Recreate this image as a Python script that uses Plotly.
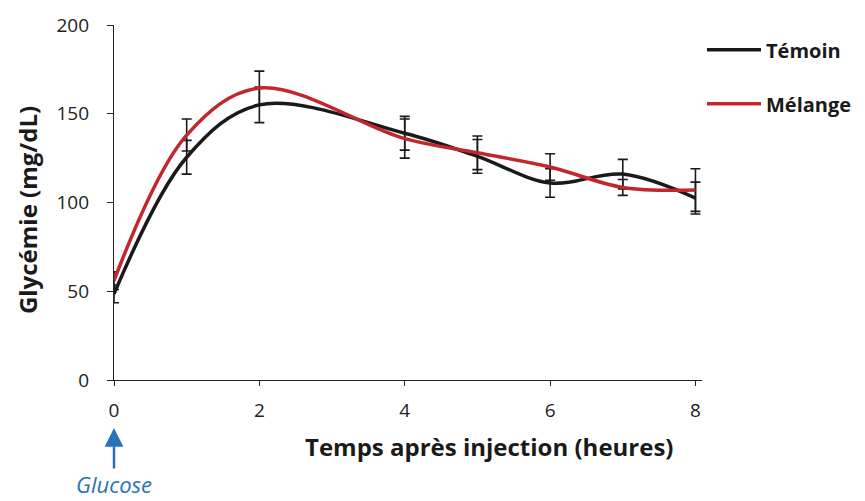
import plotly.graph_objects as go

hours = [0, 1, 2, 4, 5, 6, 7, 8]
temoin = [48.5, 125.5, 155, 139, 126, 111, 116, 102.5]
temoin_err = [5, 9.5, 10, 9.5, 9.5, 8, 8.3, 9]
melange = [56, 138, 164.5, 136, 128, 120, 108.5, 107]
melange_err = [5, 9, 9.5, 11, 9.5, 7.5, 4.5, 12]
x_ticks = [0, 2, 4, 6, 8]
y_ticks = [0, 50, 100, 150, 200]

FONT = "Open Sans"
BLACK = "#1a1a1a"
RED = "#c1272d"
BLUE = "#2a72b8"

fig = go.Figure()
fig.add_trace(go.Scatter(
    x=hours, y=temoin, name="Témoin", mode="lines",
    line=dict(color=BLACK, width=3.5, shape="spline", smoothing=1),
    error_y=dict(type="data", array=temoin_err, color=BLACK, thickness=1.6, width=5),
    legendgroup="a",
))
fig.add_trace(go.Scatter(
    x=hours, y=melange, name="Mélange", mode="lines",
    line=dict(color=RED, width=3.5, shape="spline", smoothing=1),
    error_y=dict(type="data", array=melange_err, color=BLACK, thickness=1.6, width=5),
    legendgroup="b",
))

# page body has an 8px margin: figure spans 8..865 x 8..501
fig.update_layout(
    width=857, height=493,
    margin=dict(l=106, r=163, t=17, b=121, autoexpand=False),
    paper_bgcolor="white", plot_bgcolor="white",
    font=dict(family=FONT, size=19, color="#222"),
    showlegend=True,
    legend=dict(
        x=1.0, xanchor="left", y=0.985, yanchor="top",
        font=dict(family=FONT, size=20, color="#1a1a1a", weight="bold"),
        tracegroupgap=25, itemwidth=54, bgcolor="rgba(0,0,0,0)",
    ),
    xaxis=dict(
        range=[0, 8.09], tickvals=x_ticks, showgrid=False, zeroline=False,
        showline=True, linecolor="#222", linewidth=1.3,
        ticks="outside", ticklen=5, tickwidth=1.3, tickcolor="#222",
        ticklabelstandoff=8, automargin=False,
    ),
    yaxis=dict(
        range=[0, 200], tickvals=y_ticks, showgrid=False, zeroline=False,
        showline=True, linecolor="#222", linewidth=1.3,
        ticks="outside", ticklen=6, tickwidth=1.3, tickcolor="#222",
        ticklabelstandoff=14, automargin=False,
    ),
    annotations=[
        dict(text="<b>Temps après injection (heures)</b>", xref="paper", yref="paper",
             x=0.638, y=-0.186, showarrow=False, xanchor="center", yanchor="middle",
             font=dict(family=FONT, size=24, color="#1a1a1a")),
        dict(text="<b>Glycémie (mg/dL)</b>", xref="paper", yref="paper",
             x=-0.146, y=0.479, showarrow=False, textangle=-90,
             xanchor="center", yanchor="middle",
             font=dict(family=FONT, size=24, color="#1a1a1a")),
        dict(text="<i>Glucose</i>", xref="x", yref="paper",
             x=0, y=-0.135, ax=0, ay=56, showarrow=True, borderpad=0,
             arrowhead=2, arrowsize=1.5, arrowwidth=2.5, arrowcolor=BLUE,
             font=dict(family=FONT, size=22, color=BLUE)),
    ],
)

fig.write_html("out.html")
